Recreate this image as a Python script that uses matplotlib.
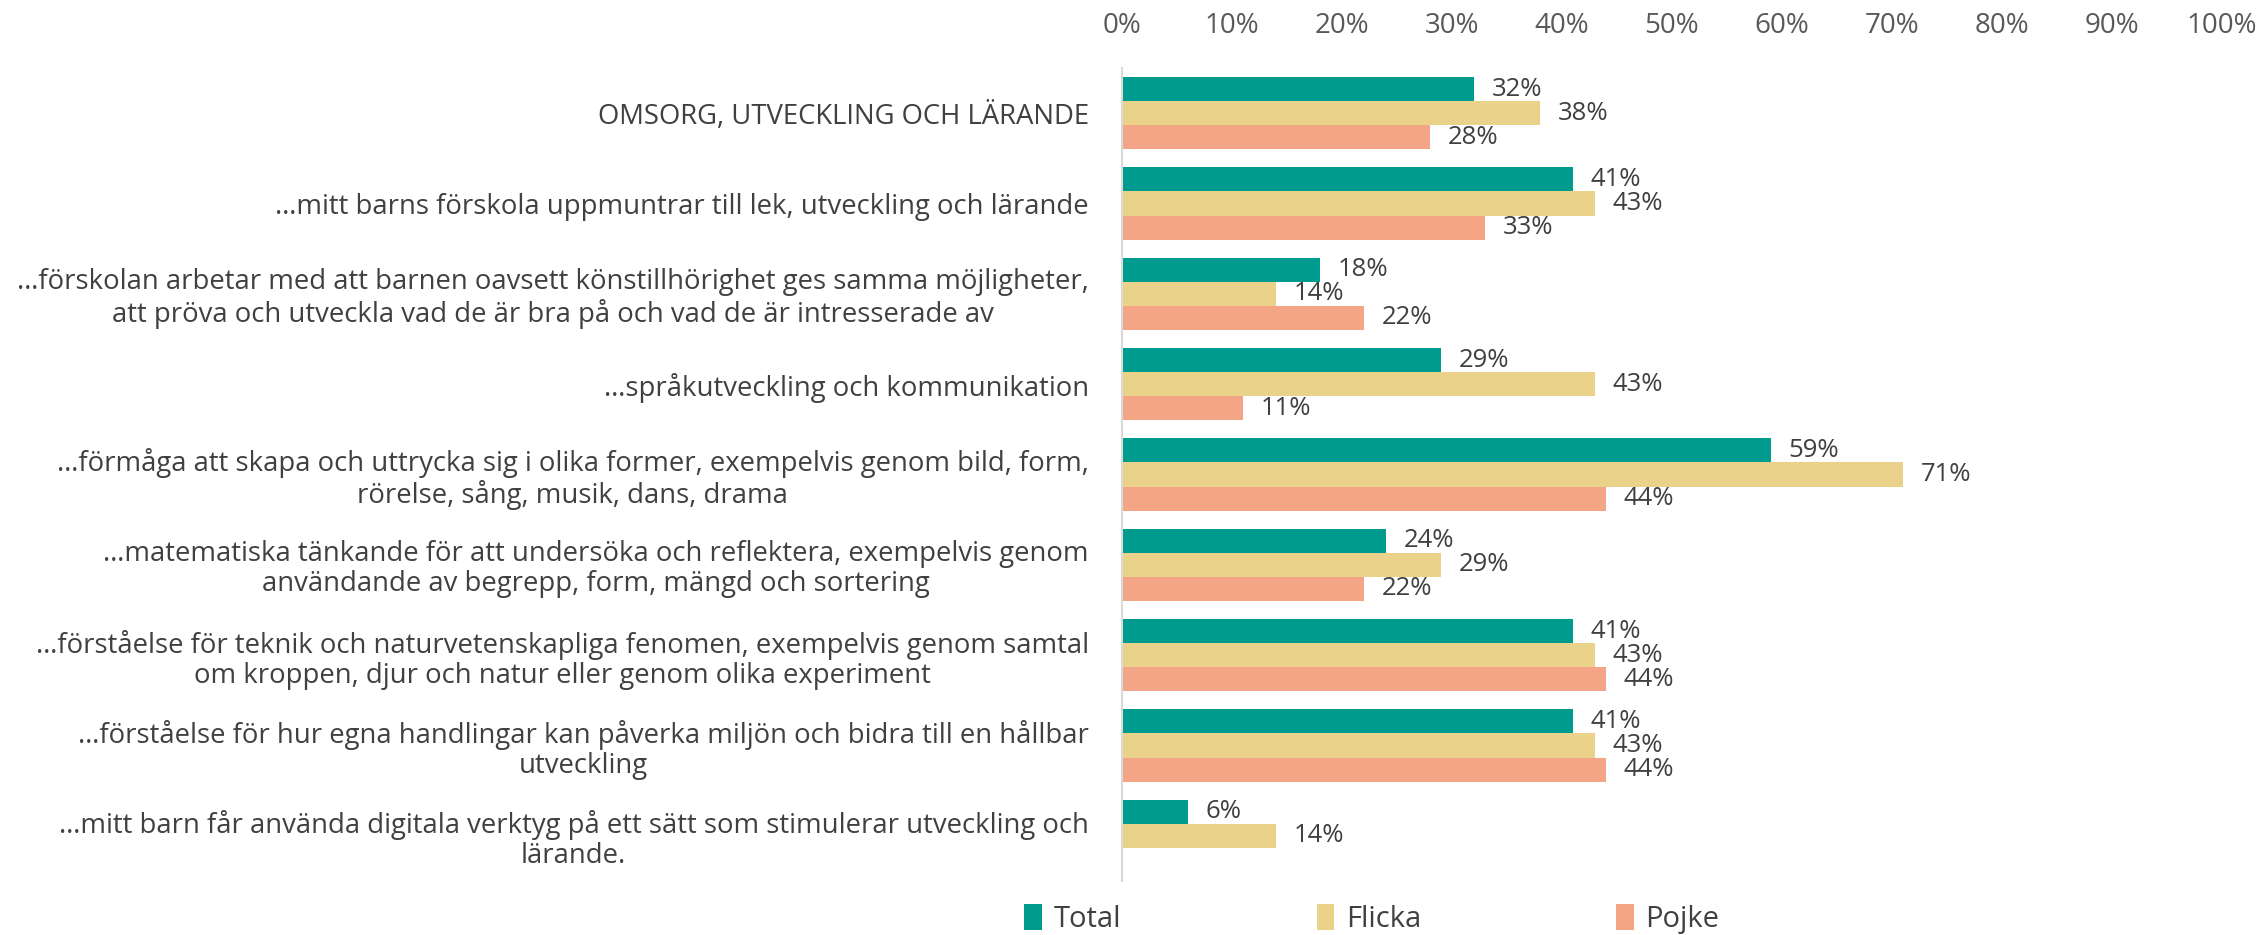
import matplotlib
matplotlib.use("Agg")
import matplotlib.pyplot as plt
import numpy as np
from matplotlib.patches import Patch

categories = [
    "OMSORG, UTVECKLING OCH LÄRANDE",
    "…mitt barns förskola uppmuntrar till lek, utveckling och lärande",
    "…förskolan arbetar med att barnen oavsett könstillhörighet ges samma möjligheter,\natt pröva och utveckla vad de är bra på och vad de är intresserade av",
    "…språkutveckling och kommunikation",
    "…förmåga att skapa och uttrycka sig i olika former, exempelvis genom bild, form,\nrörelse, sång, musik, dans, drama",
    "…matematiska tänkande för att undersöka och reflektera, exempelvis genom\nanvändande av begrepp, form, mängd och sortering",
    "…förståelse för teknik och naturvetenskapliga fenomen, exempelvis genom samtal\nom kroppen, djur och natur eller genom olika experiment",
    "…förståelse för hur egna handlingar kan påverka miljön och bidra till en hållbar\nutveckling",
    "…mitt barn får använda digitala verktyg på ett sätt som stimulerar utveckling och\nlärande.",
]
series_names = ["Total", "Flicka", "Pojke"]
total = [32, 41, 18, 29, 59, 24, 41, 41, 6]
flicka = [38, 43, 14, 43, 71, 29, 43, 43, 14]
pojke = [28, 33, 22, 11, 44, 22, 44, 44, None]
tick_labels = ["0%", "10%", "20%", "30%", "40%", "50%", "60%", "70%", "80%", "90%", "100%"]

colors = ["#009B8F", "#EBD28A", "#F4A586"]
text_color = "#404040"
tick_color = "#595959"
FONT = "Open Sans"
plt.rcParams["font.family"] = [FONT, "DejaVu Sans"]

W, H = 2262, 935
fig = plt.figure(figsize=(W / 100, H / 100), dpi=100)
ax = fig.add_axes([1122 / W, 1 - 881 / H, 1100 / W, 813 / H])

n = len(categories)
y = np.arange(n)
h = 0.266
offsets = [-h, 0, h]
for s, (vals, col, off) in enumerate(zip([total, flicka, pojke], colors, offsets)):
    for i, v in enumerate(vals):
        if v is None:
            continue
        ax.barh(y[i] + off, v / 100, height=h, color=col, edgecolor="none")
        ax.text(v / 100 + 0.016, y[i] + off, f"{v}%", va="center", ha="left",
                fontsize=18.5, color=text_color)

ax.set_xlim(0, 1)
ax.set_ylim(n - 0.5, -0.5)
ax.xaxis.tick_top()
ax.set_xticks(np.linspace(0, 1, 11))
ax.set_xticklabels(tick_labels, fontsize=20, color=tick_color)
ax.tick_params(axis="x", length=0, pad=20)
ax.set_yticks(y)
ax.set_yticklabels(categories, fontsize=19.8, color=text_color, linespacing=1.1)
for t in ax.get_yticklabels():
    t.set_multialignment("center")
ax.tick_params(axis="y", length=0, pad=24)
for sp in ["top", "right", "bottom"]:
    ax.spines[sp].set_visible(False)
ax.spines["left"].set_color("#D9D9D9")
ax.spines["left"].set_linewidth(1.5)

handles = [Patch(facecolor=c, edgecolor="none") for c in colors]
fig.legend(handles, series_names, loc="center", bbox_to_anchor=(1372 / W, 1 - 919 / H),
           ncol=3, frameon=False, fontsize=21, handlelength=0.6, handleheight=1.0,
           handletextpad=0.4, columnspacing=6.7, labelcolor=text_color)

fig.savefig("out.png", dpi=100, facecolor="white")
